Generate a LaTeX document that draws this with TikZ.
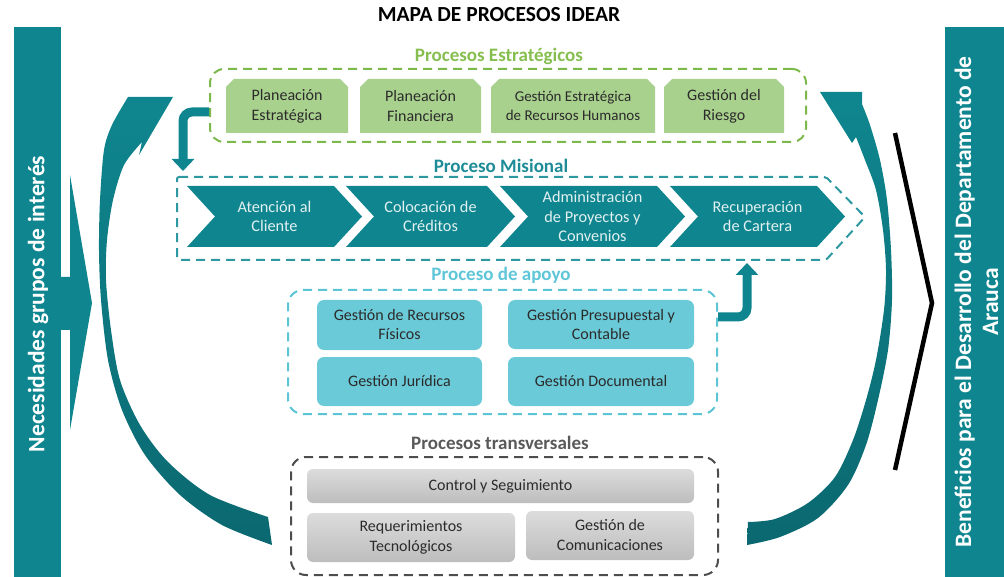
\documentclass[tikz,border=0pt]{standalone}
\usepackage{fontspec}
\setmainfont{Carlito}
\usetikzlibrary{arrows.meta}
\definecolor{tealc}{HTML}{0F868F}
\definecolor{darkteal}{HTML}{0B6870}
\definecolor{glabel}{HTML}{86BE4F}
\definecolor{gdash}{HTML}{7DB84A}
\definecolor{gfill}{HTML}{A9D18E}
\definecolor{mlabel}{HTML}{1D8C97}
\definecolor{mdash}{HTML}{2D97A2}
\definecolor{alabel}{HTML}{5EC6D8}
\definecolor{adash}{HTML}{5BC5D6}
\definecolor{afill}{HTML}{6BCAD8}
\definecolor{tlabel}{HTML}{595959}
\definecolor{tdash}{HTML}{4D4D4D}
\definecolor{gtop}{HTML}{DCDCDC}
\definecolor{gbot}{HTML}{BDBDBD}
\definecolor{txtdark}{HTML}{2B2B2B}
\tikzset{
  lbl/.style={font=\bfseries\fontsize{19}{22}\selectfont},
  gtext/.style={align=center, text=txtdark, font=\fontsize{16}{20}\selectfont},
  ctext/.style={align=center, text=white!88!tealc, font=\fontsize{16.3}{19.5}\selectfont},
  abox/.style={fill=afill, rounded corners=7pt, align=center, text=txtdark,
    font=\fontsize{16}{19}\selectfont, inner sep=2pt},
  tbox/.style={top color=gtop, bottom color=gbot, rounded corners=6pt, align=center,
    text=txtdark, font=\fontsize{16}{20}\selectfont, inner sep=2pt},
  dashbox/.style={line width=2pt, dash pattern=on 9pt off 6pt},
  elbow/.style={draw=tealc, line width=9pt, rounded corners=9pt,
    -{Triangle[width=22pt,length=12pt]}},
  bartext/.style={rotate=90, text=white, align=center,
    font=\bfseries\fontsize{23.5}{27}\selectfont},
}
\newcommand{\chevshape}[4]{%
  \fill[tealc] (#2,186) -- (#3,186) -- (#3+28,216.5) -- (#3,247) -- (#2,247) -- (#2+28,216.5) -- cycle;
  \node[ctext] (#1) at ({(#2+#3+28)/2},216.5) {#4};
}
\newcommand{\snipbox}[7]{%
  \fill[gfill] (#2,#5) -- (#2,#3+8) -- (#2+8,#3) -- (#4-8,#3) -- (#4,#3+8) -- (#4,#5) -- cycle;
  \node[gtext,#6] (#1) at ({(#2+#4)/2},{(#3+#5)/2}) {#7};
}
\begin{document}
\begin{tikzpicture}[x=1pt,y=-1pt]
\useasboundingbox (0,0) rectangle (1004,577);

% title
\node[font=\bfseries\fontsize{21.5}{24}\selectfont] (title) at (499,15) {MAPA DE PROCESOS IDEAR};

% left bar
\fill[tealc] (14,27) rectangle (61,577);
\fill[tealc] (61,277) -- (70,277) -- (70,175) -- (92,303) -- (70,430) -- (70,330) -- (61,330) -- cycle;
\node[bartext] (lbt) at (38,304) {Necesidades grupos de interés};

% right bar
\fill[tealc] (945,27) rectangle (1004,577);
\node[bartext] (rbt) at (976.5,302) {Beneficios para el Desarrollo del Departamento de\\Arauca};

% black chevron line
\draw[line width=4.5pt, line join=miter] (895,133) -- (932,303) -- (895,470);

% left curved arrow
\shade[top color=tealc, bottom color=darkteal]
  (128,97) -- (173,97) -- (139,155) -- (142,142)
  -- plot[smooth] coordinates {(142,142) (124,165) (113,200) (107,240) (106,280) (111,330) (120,380) (140,425) (168,462) (210,495) (268,517)}
  -- (272,545)
  -- plot[smooth] coordinates {(272,545) (222,525) (180,495) (145,455) (122,410) (108,360) (101,300) (99,250) (100,200) (104,150) (112,125) (128,97)}
  -- cycle;

% right curved arrow
\shade[top color=tealc, bottom color=darkteal]
  (820,92) -- (862,92) -- (862,104)
  -- plot[smooth] coordinates {(862,104) (870,125) (880,160) (887,200) (891,250) (892,300) (888,350) (878,400) (866,445) (848,485) (818,518) (780,537) (747,545)}
  -- (748,522)
  -- plot[smooth] coordinates {(748,522) (775,519) (808,503) (835,477) (853,440) (866,400) (876,360) (884,310) (886,270) (883,230) (876,190) (865,160) (856,137)}
  -- (852,143) -- cycle;

% Procesos estrategicos
\node[lbl, text=glabel] (lest) at (499,56) {Procesos Estratégicos};
\node[draw=gdash, dashbox, rounded corners=14pt, minimum width=596pt, minimum height=73pt] (est) at (508,105.5) {};
\snipbox{pe}{226}{79}{348}{133}{}{Planeación\\Estratégica}
\snipbox{pf}{360}{79}{481}{133}{}{Planeación\\Financiera}
\snipbox{gh}{491}{79}{655}{133}{font=\fontsize{15}{19}\selectfont}{Gestión Estratégica\\de Recursos Humanos}
\snipbox{gr}{664}{79}{784}{133}{}{Gestión del\\Riesgo}

% Proceso misional
\node[lbl, text=mlabel] (lmis) at (501,166) {Proceso Misional};
\draw[draw=mdash, dashbox, rounded corners=2pt] (177,177) -- (826,177) -- (865,217) -- (826,260) -- (177,260) -- cycle;
\chevshape{c1}{187}{334}{Atención al\\Cliente}
\chevshape{c2}{346}{487}{Colocación de\\Créditos}
\chevshape{c3}{500}{657}{Administración\\de Proyectos y\\Convenios}
\chevshape{c4}{670}{817}{Recuperación\\de Cartera}
\coordinate (t1) at (183,171);
\draw[elbow] ([yshift=-6.5pt]est.west) -| (t1);

% Proceso de apoyo
\node[lbl, text=alabel] (lapo) at (501,275) {Proceso de apoyo};
\node[draw=adash, dashbox, rounded corners=15pt, minimum width=429pt, minimum height=124pt] (apo) at (502.5,352) {};
\node[abox, minimum width=165pt, minimum height=50pt] (a1) at (399.5,325) {Gestión de Recursos\\Físicos};
\node[abox, minimum width=165pt, minimum height=49pt] (a2) at (399.5,381.5) {Gestión Jurídica};
\node[abox, minimum width=186pt, minimum height=49pt] (a3) at (601,324.5) {Gestión Presupuestal y\\Contable};
\node[abox, minimum width=186pt, minimum height=49pt] (a4) at (601,381.5) {Gestión Documental};
\coordinate (t2) at (747,263);
\draw[elbow] ([yshift=35pt]apo.east) -| (t2);

% Procesos transversales
\node[lbl, text=tlabel] (ltrn) at (500,443) {Procesos transversales};
\node[draw=tdash, dashbox, rounded corners=15pt, minimum width=427pt, minimum height=118pt] (trn) at (504.5,516) {};
\node[tbox, minimum width=387pt, minimum height=34pt] (g1) at (500.5,486) {Control y Seguimiento};
\node[tbox, minimum width=208pt, minimum height=49pt] (g2) at (411,537.5) {Requerimientos\\Tecnológicos};
\node[tbox, minimum width=168pt, minimum height=49pt] (g3) at (610,535.5) {Gestión de\\Comunicaciones};
\end{tikzpicture}
\end{document}
